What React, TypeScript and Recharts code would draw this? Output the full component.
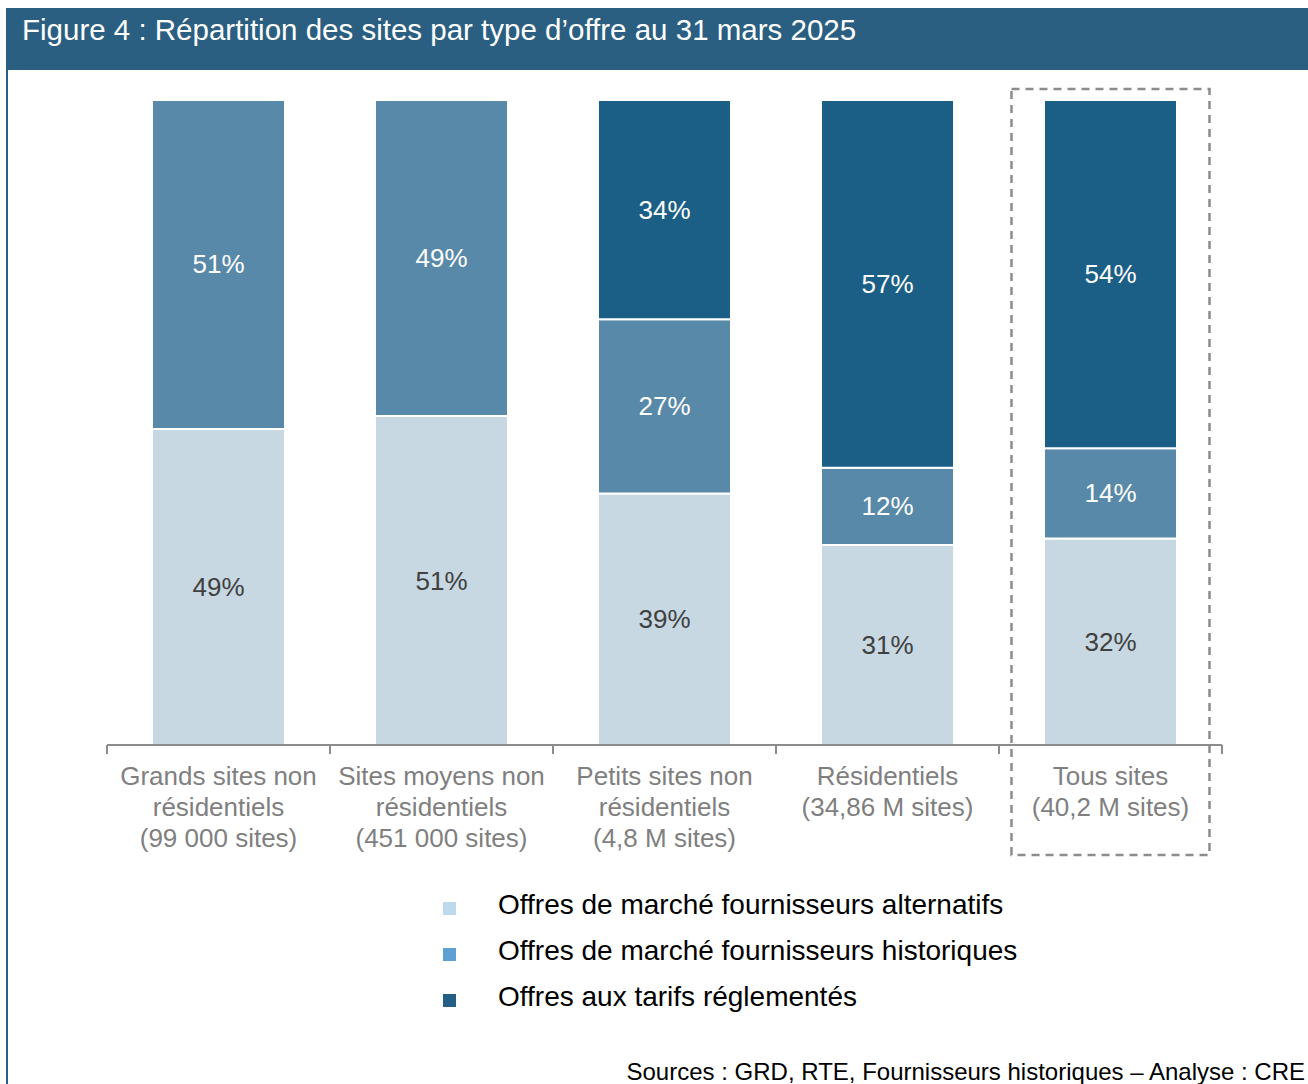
import { Bar, BarChart, LabelList, XAxis, YAxis } from 'recharts';

const categories = [
  'Grands sites non\nrésidentiels\n(99 000 sites)',
  'Sites moyens non\nrésidentiels\n(451 000 sites)',
  'Petits sites non\nrésidentiels\n(4,8 M sites)',
  'Résidentiels\n(34,86 M sites)',
  'Tous sites\n(40,2 M sites)',
];
const alternatifs = [49, 51, 39, 31, 32];
const historiques = [51, 49, 27, 12, 14];
const reglementes = [0, 0, 34, 57, 54];

const seriesNames = [
  'Offres de marché fournisseurs alternatifs',
  'Offres de marché fournisseurs historiques',
  'Offres aux tarifs réglementés',
];
const barColors = ['#c7d8e2', '#5889a8', '#1b5f86'];
const legendColors = ['#bed8ec', '#5f9fd2', '#245d85'];
const labelColors = ['#404040', '#ffffff', '#ffffff'];

const data = categories.map((name, i) => ({
  name,
  alt: alternatifs[i],
  hist: historiques[i],
  reg: reglementes[i],
}));

const FONT = '"Liberation Sans", Arial, sans-serif';
const AXIS = '#8c8c8c';
const HEADER = '#2a5f82';

const makeLabel = (color: string) => (props: any) => {
  const { x, y, width, height, value } = props;
  if (!value) return null;
  return (
    <text
      x={Number(x) + Number(width) / 2}
      y={Number(y) + Number(height) / 2}
      textAnchor="middle"
      dominantBaseline="central"
      fill={color}
      fontSize={26}
      fontFamily={FONT}
    >
      {value}%
    </text>
  );
};

function CategoryTick(props: any) {
  const { x, y, payload, index, width, visibleTicksCount } = props;
  const band = Number(width) / Number(visibleTicksCount);
  const lines = String(payload.value).split('\n');
  const last = index === visibleTicksCount - 1;
  return (
    <g>
      <line x1={x - band / 2} x2={x - band / 2} y1={y} y2={y + 9} stroke={AXIS} strokeWidth={2} />
      {last && (
        <>
          <line x1={x + band / 2} x2={x + band / 2} y1={y} y2={y + 9} stroke={AXIS} strokeWidth={2} />
          <rect
            x={x - band * 0.444}
            y={y - 656}
            width={band * 0.888}
            height={766}
            fill="none"
            stroke={AXIS}
            strokeWidth={2.5}
            strokeDasharray="8 6"
          />
        </>
      )}
      {lines.map((l, k) => (
        <text
          key={k}
          x={x}
          y={y + 40 + k * 31}
          textAnchor="middle"
          fill="#7f7f7f"
          fontSize={26}
          fontFamily={FONT}
        >
          {l}
        </text>
      ))}
    </g>
  );
}

export default function App() {
  return (
    <div
      style={{
        position: 'absolute',
        left: 0,
        top: 0,
        width: 1308,
        height: 1084,
        background: '#ffffff',
        fontFamily: FONT,
        overflow: 'hidden',
      }}
    >
      <div
        style={{
          position: 'absolute',
          left: 6,
          top: 8,
          width: 1302,
          height: 62,
          background: HEADER,
          color: '#ffffff',
          fontSize: 29.5,
          lineHeight: '44px',
          paddingLeft: 16,
          boxSizing: 'border-box',
          whiteSpace: 'nowrap',
        }}
      >
        Figure 4 : Répartition des sites par type d’offre au 31 mars 2025
      </div>
      <div style={{ position: 'absolute', left: 6, top: 70, width: 2, height: 1014, background: HEADER }} />

      <div style={{ position: 'absolute', left: 0, top: 0 }}>
        <BarChart
          width={1308}
          height={880}
          data={data}
          margin={{ top: 100, right: 86, left: 107, bottom: 5 }}
          barSize={133}
        >
          <XAxis
            dataKey="name"
            height={130}
            interval={0}
            tickLine={false}
            tickSize={0}
            tickMargin={0}
            axisLine={{ stroke: AXIS, strokeWidth: 2 }}
            tick={<CategoryTick />}
          />
          <YAxis hide domain={[0, 100]} />
          {(['alt', 'hist', 'reg'] as const).map((key, i) => (
            <Bar
              key={key}
              dataKey={key}
              stackId="s"
              fill={barColors[i]}
              stroke="#ffffff"
              strokeWidth={2}
              isAnimationActive={false}
            >
              <LabelList dataKey={key} content={makeLabel(labelColors[i])} />
            </Bar>
          ))}
        </BarChart>
      </div>

      <div style={{ position: 'absolute', left: 443, top: 882 }}>
        {seriesNames.map((n, i) => (
          <div key={n} style={{ display: 'flex', alignItems: 'center', height: 46 }}>
            <div style={{ width: 13, height: 13, background: legendColors[i], marginRight: 42, marginTop: 6 }} />
            <span style={{ fontSize: 28, color: '#000000' }}>{n}</span>
          </div>
        ))}
      </div>

      <div
        style={{
          position: 'absolute',
          right: 3,
          top: 1057,
          fontSize: 24,
          lineHeight: '30px',
          color: '#000000',
          whiteSpace: 'nowrap',
        }}
      >
        Sources : GRD, RTE, Fournisseurs historiques – Analyse : CRE
      </div>
    </div>
  );
}
